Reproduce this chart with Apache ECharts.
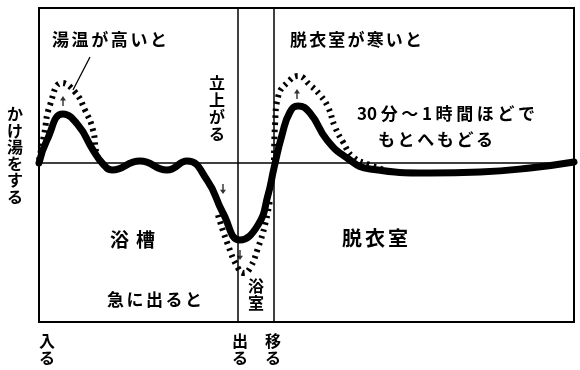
<!DOCTYPE html>
<html><head><meta charset="utf-8">
<script src="https://cdn.jsdelivr.net/npm/echarts@6/dist/echarts.min.js"></script>
<style>html,body{margin:0;padding:0;background:#fff}#c{width:580px;height:370px}</style>
</head><body><div id="c"></div>
<script>
// time axis (arbitrary units) and blood-pressure change (arbitrary units, 0 = normal)
var solidBP = [[0,0],[8,23],[24,49],[39,38],[54,13],[64,-1],[73,-7],[101,2],[128,-7],[148,2],[168,-17],[184,-50],[201,-77],[219,-62],[229,-32],[235,-5],[243,28],[251,51],[259,57],[271,50],[288,23],[308,5],[331,-6],[391,-10],[441,-9],[491,-5],[535,1]];
var hotBath = [[0,3],[5,28],[11,58],[23,80],[36,71],[46,53],[54,33],[58,8],[63,0]];
var suddenExit = [[179,-52],[189,-82],[199,-105],[205,-110],[211,-105],[219,-85],[226,-62],[231,-37]];
var coldRoom = [[235,3],[236,38],[239,66],[251,83],[259,87],[271,78],[281,68],[289,56],[296,36],[304,21],[314,6],[331,-2],[346,-7]];
var upArrows = [[24,62],[258,69]];
var downArrows = [[184,-26],[201,-92]];
var leader = [[51,106],[34,73]];
var dividers = [199, 235];
var baseline = 0;

var chart = echarts.init(document.getElementById('c'), null, {renderer:'canvas'});
var F = '"Noto Sans CJK JP","Noto Sans CJK SC",sans-serif';
var WEIGHT = 'bold';
var ctx = document.createElement('canvas').getContext('2d');
function font(size){ return WEIGHT+' '+size+'px '+F; }
// horizontal text with characters spread evenly between x0 and x1
function spread(x0, x1, y, tokens, size) {
  ctx.font = font(size);
  var ws = tokens.map(function(t){ return ctx.measureText(t).width; });
  var tot = ws.reduce(function(a,b){return a+b;}, 0);
  var gap = tokens.length > 1 ? (x1 - x0 - tot) / (tokens.length - 1) : 0;
  var out = [], x = x0;
  tokens.forEach(function(t, i){
    out.push({type:'text', x:x, y:y, style:{text:t, font:font(size), fill:'#000', textAlign:'left', textVerticalAlign:'top'}});
    x += ws[i] + gap;
  });
  return out;
}
function vtxt(x, y, s, size, lh) {
  return {type:'text', x:x, y:y, style:{text:s.split('').join('\n'), font:font(size), fill:'#000', textAlign:'center', textVerticalAlign:'top', lineHeight:lh}};
}
var arrowPath = 'path://M5,0 L10,7 L6.2,7 L6.2,16 L3.8,16 L3.8,7 L0,7 Z';
var dashStyle = {color:'#000', width:6, type:[2.5,4.5], cap:'butt'};
var texts = [].concat(
  spread(52,167,31,'湯温が高いと'.split(''),17),
  spread(290,422,31,'脱衣室が寒いと'.split(''),17),
  spread(357,535,105,['30','分','～','1','時','間','ほ','ど','で'],17),
  spread(378,493,131,'もとへもどる'.split(''),17),
  spread(110,155,230,'浴槽'.split(''),19),
  spread(342,408,228,'脱衣室'.split(''),20),
  spread(107,202,291,'急に出ると'.split(''),17),
  [vtxt(217,74,'立上がる',16,17),
   vtxt(15,106,'かけ湯をする',16,16.5),
   vtxt(256,277,'浴室',16,17.5),
   vtxt(47,332,'入る',16,17.5),
   vtxt(240,332,'出る',16,17.5),
   vtxt(273,332,'移る',16,17.5)]
);
chart.setOption({
  animation:false,
  backgroundColor:'#fff',
  grid:{left:39, right:6, top:8, bottom:48, show:true, borderColor:'#000', borderWidth:2, backgroundColor:'transparent'},
  xAxis:{type:'value', min:0, max:535, show:false},
  yAxis:{type:'value', min:-159, max:155, show:false},
  series:[
    {type:'line', data:hotBath, smooth:0.5, symbol:'none', lineStyle:dashStyle, z:2},
    {type:'line', data:suddenExit, smooth:0.5, symbol:'none', lineStyle:dashStyle, z:2},
    {type:'line', data:coldRoom, smooth:0.5, symbol:'none', lineStyle:dashStyle, z:2},
    {type:'line', data:solidBP, smooth:0.5, symbol:'none', lineStyle:{color:'#000', width:7, cap:'round', join:'round'}, z:3,
      markLine:{silent:true, symbol:'none', label:{show:false}, lineStyle:{color:'#000', width:1.5, type:'solid'},
        data:[{yAxis:baseline}].concat(dividers.map(function(d){return {xAxis:d};}))}},
    {type:'line', data:leader, symbol:'none', lineStyle:{color:'#000', width:1.3}, z:4},
    {type:'scatter', data:upArrows, symbol:arrowPath, symbolSize:[6,10], itemStyle:{color:'#000'}, z:5},
    {type:'scatter', data:downArrows, symbol:arrowPath, symbolSize:[6,10], symbolRotate:180, itemStyle:{color:'#000'}, z:5}
  ],
  graphic:texts
});
</script></body></html>
